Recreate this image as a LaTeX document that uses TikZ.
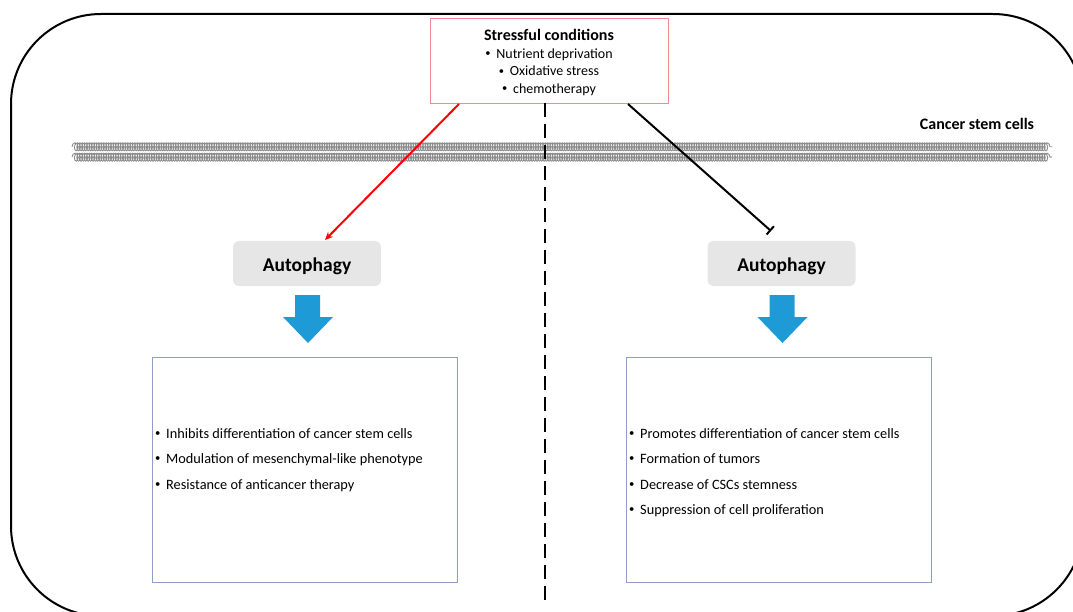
\documentclass[tikz,border=0pt]{standalone}
\usepackage{fontspec}
\setmainfont{Carlito}
\usetikzlibrary{arrows.meta,decorations.pathmorphing}
\definecolor{pinkedge}{RGB}{240,140,145}
\definecolor{boxedge}{RGB}{143,160,200}
\definecolor{arrowblue}{RGB}{30,155,215}
\definecolor{autofill}{RGB}{230,230,230}
\definecolor{membrane}{RGB}{140,140,140}
\newcommand{\bul}{\makebox[11pt][l]{\raisebox{0.12em}{\scalebox{0.75}{\textbullet}}}}
\begin{document}
\begin{tikzpicture}[x=1pt,y=-1pt,
  autobox/.style={fill=autofill, rounded corners=6pt, minimum width=148pt, minimum height=45pt,
     font=\fontsize{19.5}{22}\selectfont\bfseries, inner sep=0pt, text height=16pt, text depth=0pt},
  textbox/.style={draw=boxedge, line width=0.8pt, minimum width=305pt, minimum height=225pt, inner sep=0pt},
  itemline/.style={anchor=base west, inner sep=0pt, font=\fontsize{14.3}{17}\selectfont},
  blockarrow/.style={fill=arrowblue},
  coilline/.style={membrane, line width=0.9pt, decorate,
     decoration={coil, aspect=0.6, segment length=2.4pt, amplitude=4pt}}
]
\useasboundingbox (0,0) rectangle (1073,612);
% outer cell outline
\begin{scope}
\clip (0,0) rectangle (1073,612);
\draw[line width=2pt, rounded corners=90pt] (11,14) rectangle (1083,616);
\end{scope}
% membrane
\draw[coilline] (72,146.8) -- (1052,146.8);
\draw[coilline] (72,157.2) -- (1052,157.2);
\node[font=\fontsize{16}{19}\selectfont\bfseries, anchor=base] (csc) at (977,130) {Cancer stem cells};
% stress box
\node[draw=pinkedge, line width=0.8pt, minimum width=238pt, minimum height=85pt, inner sep=0pt,
      fill=white] (stress) at (549,60.5) {};
\node[align=center, inner sep=0pt, font=\fontsize{14}{17.7}\selectfont] (stresstext) at (549,62.5)
  {{\fontsize{16}{17.7}\selectfont\bfseries Stressful conditions}\\
   \bul Nutrient deprivation\\ \bul Oxidative stress\\ \bul chemotherapy};
% dashed divider
\coordinate (dtop) at (545,103);
\coordinate (dbot) at (545,602);
\draw[line width=2.5pt, dash pattern=on 14pt off 7pt] (dtop) -- (dbot);
% autophagy boxes
\node[autobox] (aL) at (307,263.5) {Autophagy};
\node[autobox] (aR) at (781.5,263.5) {Autophagy};
% connectors
\coordinate (rs) at (459,104);
\coordinate (re) at (325,240);
\coordinate (bs) at (628,104);
\coordinate (be) at (771,231);
\draw[red, line width=2pt, -{Stealth[length=8pt,width=7pt]}] (rs) -- (re);
\draw[black, line width=2pt, -{Bar[width=11pt,line width=2pt]}] (bs) -- (be);
% blue arrows
\fill[blockarrow] (295,295) -- (320,295) -- (320,317) -- (333,317) -- (308,343) -- (283,317) -- (295,317) -- cycle;
\begin{scope}[xshift=474.5pt]
\fill[blockarrow] (295,295) -- (320,295) -- (320,317) -- (333,317) -- (308,343) -- (283,317) -- (295,317) -- cycle;
\end{scope}
% text boxes
\node[textbox] (bL) at (304.5,469.5) {};
\node[textbox] (bR) at (778.5,469.5) {};
\node[itemline] (l1) at (155,438) {\bul Inhibits differentiation of cancer stem cells};
\node[itemline] (l2) at (155,463.5) {\bul Modulation of mesenchymal-like phenotype};
\node[itemline] (l3) at (155,489) {\bul Resistance of anticancer therapy};
\node[itemline] (r1) at (629,438) {\bul Promotes differentiation of cancer stem cells};
\node[itemline] (r2) at (629,463.5) {\bul Formation of tumors};
\node[itemline] (r3) at (629,489) {\bul Decrease of CSCs stemness};
\node[itemline] (r4) at (629,514.5) {\bul Suppression of cell proliferation};
\end{tikzpicture}
\end{document}
